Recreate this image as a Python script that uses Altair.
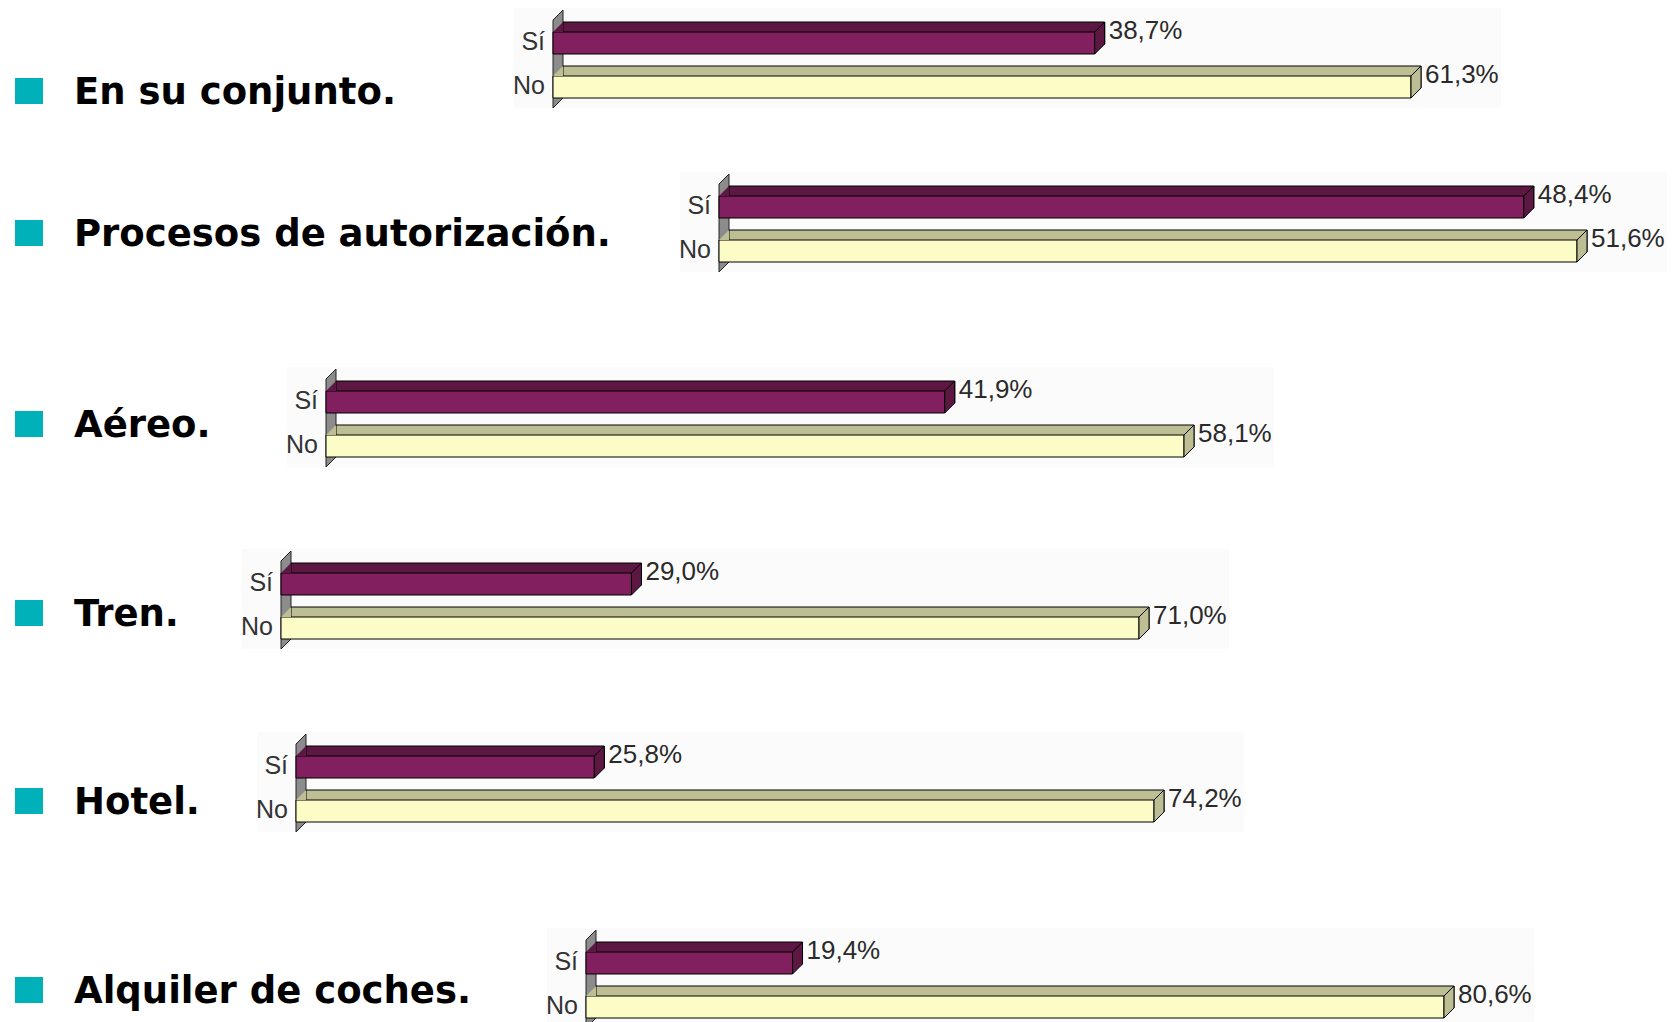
import altair as alt
import pandas as pd

# ---------------- data ----------------
topics = ["En su conjunto.", "Procesos de autorización.", "Aéreo.", "Tren.", "Hotel.", "Alquiler de coches."]
answers = ["Sí", "No"]
si_pct = [38.7, 48.4, 41.9, 29.0, 25.8, 19.4]
no_pct = [61.3, 51.6, 58.1, 71.0, 74.2, 80.6]

# ---------------- layout ----------------
panel_left = [514, 680, 287, 242, 257, 547]   # page x of each grey panel
row_h = [164, 195, 182, 183, 196, 100]        # height of each row
title_c = [86, 64, 60, 67, 72, 65]            # title centre inside its row

PANEL_W, PANEL_H = 987, 100
AXIS_IN = 39        # axis position inside the panel
BAR_MAX = 858       # pixel length of the longest bar
D = 10              # 3-D depth

SI_FRONT, SI_DARK = "#811F5F", "#5C1843"
NO_FRONT, NO_DARK = "#FCFCC6", "#BEBE94"
WALL_FILL = "#8C8C8C"
PANEL_BG = "#FBFBFB"
BULLET = "#00B1B9"

# custom symbol paths (size=4 -> path units are pixels), relative to band centre
WALL = "M0,-23 L10,-33 L10,55 L0,65 Z"
SIDE = "M0,-11 L10,-21 L10,1 L0,11 Z"
LEFT = "M0,-11 L10,-21 L10,-11 Z"
SQUARE = "M0,0 L28,0 L28,26 L0,26 Z"


def fmt(v):
    return f"{v:.1f}".replace(".", ",") + "%"


def panel(i):
    vmax = max(si_pct[i], no_pct[i])
    df = pd.DataFrame({
        "answer": answers,
        "pct": [si_pct[i], no_pct[i]],
        "label": [fmt(si_pct[i]), fmt(no_pct[i])],
    })
    xscale = alt.Scale(domain=[0, vmax], range=[AXIS_IN, AXIS_IN + BAR_MAX])
    x = alt.X("pct:Q", scale=xscale, axis=None)
    x0 = alt.XDatum(0, type="quantitative", scale=xscale, axis=None)
    y = alt.Y("answer:N", scale=alt.Scale(domain=answers, paddingInner=0.5, paddingOuter=0.3864, align=0.706), axis=None)
    is_si = alt.datum.answer == "Sí"
    front_fill = alt.condition(is_si, alt.value(SI_FRONT), alt.value(NO_FRONT))
    dark_fill = alt.condition(is_si, alt.value(SI_DARK), alt.value(NO_DARK))
    base = alt.Chart(df)

    wall = base.transform_filter(is_si).mark_point(
        shape=WALL, size=4, filled=True, fill=WALL_FILL, stroke="#222222", strokeWidth=1, opacity=1
    ).encode(x=x0, y=y)

    back = base.mark_bar(
        xOffset=D, x2Offset=D, yOffset=-D, y2Offset=-D, stroke="black", strokeWidth=1
    ).encode(x=x, y=y, fill=dark_fill)

    front = base.mark_bar(stroke="black", strokeWidth=1).encode(x=x, y=y, fill=front_fill)

    side = base.mark_point(
        shape=SIDE, size=4, filled=True, stroke="black", strokeWidth=1, opacity=1
    ).encode(x=x, y=y, fill=dark_fill)

    left = base.mark_point(
        shape=LEFT, size=4, filled=True, strokeWidth=0, opacity=1
    ).encode(x=x0, y=y, fill=dark_fill)

    vals = base.mark_text(
        align="left", baseline="middle", dx=D + 4, dy=-12,
        font="Liberation Sans", fontSize=26, color="#2A2A2A"
    ).encode(x=x, y=y, text="label:N")

    ylab = base.mark_text(
        align="right", baseline="middle", dx=-8, dy=-1,
        font="Liberation Sans", fontSize=25, color="#333333"
    ).encode(x=x0, y=y, text="answer:N")

    return alt.layer(wall, back, front, side, left, vals, ylab).properties(
        width=PANEL_W, height=PANEL_H,
        view=alt.ViewBackground(fill=PANEL_BG, strokeWidth=0),
    )


def title_chart(i):
    tdf = pd.DataFrame({"t": [topics[i]]})
    c = title_c[i]
    bullet = alt.Chart(tdf).mark_point(
        shape=SQUARE, size=4, filled=True, fill=BULLET, strokeWidth=0, opacity=1
    ).encode(x=alt.value(7), y=alt.value(c - 16))
    txt = alt.Chart(tdf).mark_text(
        align="left", baseline="alphabetic", font="DejaVu Sans", fontWeight="bold",
        fontSize=37, color="black"
    ).encode(x=alt.value(66), y=alt.value(c + 10), text="t:N")
    return alt.layer(bullet, txt).properties(
        width=panel_left[i] - 8, height=row_h[i],
    )


rows = [alt.hconcat(title_chart(i), panel(i), spacing=0, bounds="flush") for i in range(len(topics))]

chart = alt.vconcat(*rows, spacing=0, bounds="full").properties(
    padding=0, background="white"
).configure_view(strokeWidth=0)

chart.save("out.html", embed_options={"renderer": "svg", "actions": False})
